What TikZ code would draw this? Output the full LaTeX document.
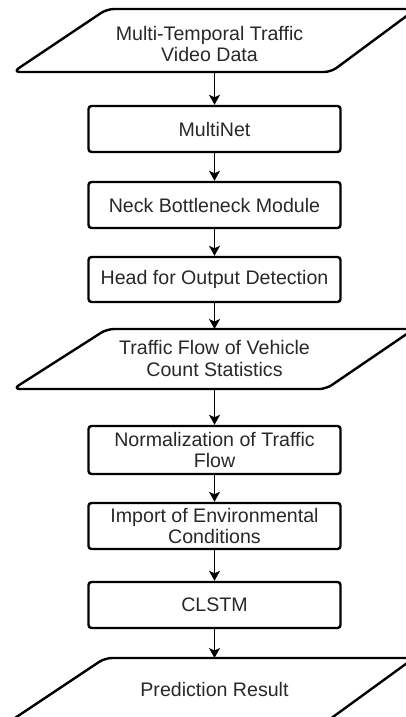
\documentclass[tikz,border=0pt]{standalone}
\usepackage{fontspec}
\setmainfont{Liberation Sans}
\usetikzlibrary{arrows.meta}
\definecolor{txt}{HTML}{282828}
\newcommand\diagfont{\fontsize{19.6}{21.5}\selectfont}
\begin{document}
\begin{tikzpicture}[x=1pt,y=-1pt,
  box/.style={draw=black, line width=2.4pt, rounded corners=3pt, minimum width=252pt, inner sep=0pt, text=txt, align=center, font=\diagfont},
  lbl/.style={text=txt, align=center, font=\diagfont, inner sep=0pt},
  para/.style={draw=black, line width=2.4pt, rounded corners=7pt, line join=round},
  arr/.style={draw=black, line width=1.4pt, -{Stealth[length=10pt,width=11pt,inset=2.5pt]}}
]
\useasboundingbox (0,0) rectangle (406,717);
\clip (0,0) rectangle (406,717);

% parallelogram 1
\draw[para] (200,72) -- (13,72) -- (107,9) -- (416,9) -- (331,72) -- cycle;
\node[lbl] (p1) at (209.5,44) {Multi-Temporal Traffic\\Video Data};
\coordinate (p1b) at (214.5,72);

% boxes
\node[box, minimum height=46pt] (b1) at (214.5,129) {MultiNet};
\node[box, minimum height=46pt] (b2) at (214.5,205) {Neck Bottleneck Module};
\node[box, minimum height=45pt] (b3) at (214.5,279.5) {Head for Output Detection};

% parallelogram 2
\draw[para] (200,389) -- (13,389) -- (107,329) -- (414,329) -- (326,389) -- cycle;
\node[lbl] (p2) at (214.5,358.5) {Traffic Flow of Vehicle\\Count Statistics};
\coordinate (p2t) at (214.5,329);
\coordinate (p2b) at (214.5,389);

\node[box, minimum height=48pt] (b4) at (214.5,450) {Normalization of Traffic\\Flow};
\node[box, minimum height=46pt] (b5) at (214.5,526) {Import of Environmental\\Conditions};
\node[box, minimum height=46pt] (b6) at (214.5,605) {CLSTM};

% parallelogram 3
\draw[para] (200,722) -- (9,722) -- (105,658) -- (414,658) -- (326,722) -- cycle;
\node[lbl] (p3) at (214.5,689) {Prediction Result};
\coordinate (p3t) at (214.5,658);

% connectors
\draw[arr] (p1b) -- (b1.north);
\draw[arr] (b1.south) -- (b2.north);
\draw[arr] (b2.south) -- (b3.north);
\draw[arr] (b3.south) -- (p2t);
\draw[arr] (p2b) -- (b4.north);
\draw[arr] (b4.south) -- (b5.north);
\draw[arr] (b5.south) -- (b6.north);
\draw[arr] (b6.south) -- (p3t);
\end{tikzpicture}
\end{document}
